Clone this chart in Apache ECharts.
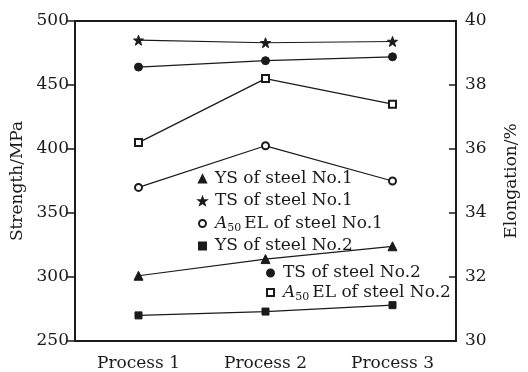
<!DOCTYPE html>
<html>
<head>
<meta charset="utf-8">
<script src="https://cdn.jsdelivr.net/npm/echarts@6/dist/echarts.min.js"></script>
<style>
  html, body { margin: 0; padding: 0; background: #fff; }
  #chart { width: 528px; height: 372px; }
</style>
</head>
<body>
<div id="chart"></div>
<script>
// Processes on the x axis
const processes = ['Process 1', 'Process 2', 'Process 3'];

// Strength, MPa (left axis)
const ysSteel1 = [301, 314, 324];
const tsSteel1 = [485, 483, 484];
const ysSteel2 = [270, 273, 278];
const tsSteel2 = [464, 469, 472];

// Elongation A50, % (right axis)
const elSteel1 = [34.8, 36.1, 35.0];
const elSteel2 = [36.2, 38.2, 37.4];

// Axis ticks
const strengthTicks = { min: 250, max: 500, interval: 50 };
const elongationTicks = { min: 30, max: 40, interval: 2 };

const FONT = 'DejaVu Serif';
const INK = '#1a1a1a';
const STAR = 'path://M0,-10 L2.35,-3.24 L9.51,-3.09 L3.8,1.24 L5.88,8.09 L0,4 L-5.88,8.09 L-3.8,1.24 L-9.51,-3.09 L-2.35,-3.24 Z';

const names = {
  ys1: 'YS of steel No.1',
  ts1: 'TS of steel No.1',
  el1: 'A50 EL of steel No.1',
  ys2: 'YS of steel No.2',
  ts2: 'TS of steel No.2',
  el2: 'A50 EL of steel No.2'
};

function lineSeries(name, data, symbol, size, yAxisIndex) {
  return {
    name: name,
    type: 'line',
    data: data,
    yAxisIndex: yAxisIndex,
    symbol: symbol,
    symbolSize: size,
    showAllSymbol: true,
    lineStyle: { color: INK, width: 1.2 },
    itemStyle: { color: INK, borderColor: INK, borderWidth: 1 },
    emphasis: { disabled: true },
    animation: false,
    z: 3
  };
}

const legendText = {
  fontFamily: FONT,
  fontSize: 17,
  color: INK,
  lineHeight: 20,
  padding: [0, 0, 0, 4],
  rich: {
    a: { fontFamily: FONT, fontSize: 17, fontStyle: 'italic', color: INK, lineHeight: 20 },
    s: { fontFamily: FONT, fontSize: 11, color: INK, lineHeight: 20, padding: [10, 3, 0, 0] },
    t: { fontFamily: FONT, fontSize: 17, color: INK, lineHeight: 20 }
  }
};

function legendFormatter(name) {
  if (name.indexOf('A50') === 0) {
    return '{a|A}{s|50}{t|' + name.slice(4) + '}';
  }
  return name;
}

const chart = echarts.init(document.getElementById('chart'), null, { renderer: 'canvas' });

chart.setOption({
  backgroundColor: '#fff',
  animation: false,
  grid: {
    left: 75, right: 60, top: 21, bottom: 30,
    show: true, borderColor: INK, borderWidth: 1.8, backgroundColor: 'transparent'
  },
  legend: [
    {
      orient: 'vertical',
      left: 193, top: 164,
      itemWidth: 7, itemHeight: 7, itemGap: 2,
      selectedMode: false,
      formatter: legendFormatter,
      textStyle: legendText,
      data: [
        { name: names.ys1, icon: 'triangle' },
        { name: names.ts1, icon: STAR },
        { name: names.el1, icon: 'emptyCircle' },
        { name: names.ys2, icon: 'rect' }
      ]
    },
    {
      orient: 'vertical',
      left: 261, top: 258,
      itemWidth: 7, itemHeight: 7, itemGap: -1,
      selectedMode: false,
      formatter: legendFormatter,
      textStyle: legendText,
      data: [
        { name: names.ts2, icon: 'circle' },
        { name: names.el2, icon: 'emptyRect' }
      ]
    }
  ],
  xAxis: {
    type: 'category',
    data: processes,
    boundaryGap: true,
    axisLine: { lineStyle: { color: INK, width: 1.8 } },
    axisTick: { inside: true, alignWithLabel: true, length: 6, lineStyle: { color: INK, width: 1.5 } },
    axisLabel: { fontFamily: FONT, fontSize: 17, color: INK, margin: 14 },
    splitLine: { show: false }
  },
  yAxis: [
    {
      type: 'value',
      position: 'left',
      min: strengthTicks.min, max: strengthTicks.max, interval: strengthTicks.interval,
      name: 'Strength/MPa',
      nameLocation: 'middle',
      nameGap: 46,
      nameRotate: 90,
      nameTextStyle: { fontFamily: FONT, fontSize: 17, color: INK },
      axisLine: { show: true, lineStyle: { color: INK, width: 1.8 } },
      axisTick: { show: true, inside: false, length: 8, lineStyle: { color: INK, width: 1.5 } },
      axisLabel: { fontFamily: FONT, fontSize: 17, color: INK, margin: 6 },
      splitLine: { show: false }
    },
    {
      type: 'value',
      position: 'right',
      min: elongationTicks.min, max: elongationTicks.max, interval: elongationTicks.interval,
      name: 'Elongation/%',
      nameLocation: 'middle',
      nameGap: 47,
      nameRotate: 90,
      nameTextStyle: { fontFamily: FONT, fontSize: 17, color: INK },
      axisLine: { show: true, lineStyle: { color: INK, width: 1.8 } },
      axisTick: { show: true, inside: true, length: 7, lineStyle: { color: INK, width: 1.5 } },
      axisLabel: { fontFamily: FONT, fontSize: 17, color: INK, margin: 9 },
      splitLine: { show: false }
    }
  ],
  series: [
    lineSeries(names.ys1, ysSteel1, 'triangle', 9, 0),
    lineSeries(names.ts1, tsSteel1, STAR, 10, 0),
    lineSeries(names.el1, elSteel1, 'emptyCircle', 7, 1),
    lineSeries(names.ys2, ysSteel2, 'rect', 7, 0),
    lineSeries(names.ts2, tsSteel2, 'circle', 8, 0),
    lineSeries(names.el2, elSteel2, 'emptyRect', 7, 1)
  ]
});
</script>
</body>
</html>
